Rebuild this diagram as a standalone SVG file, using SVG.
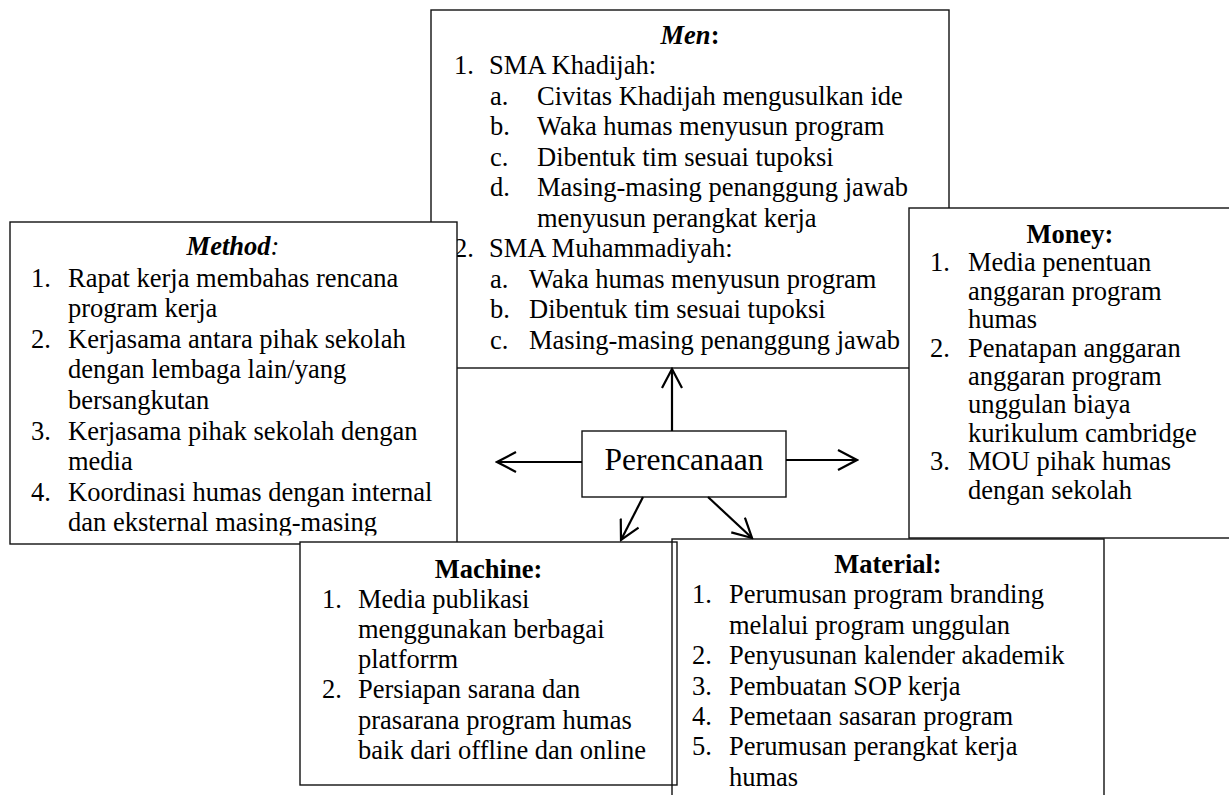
<svg xmlns="http://www.w3.org/2000/svg" width="1229" height="795" viewBox="0 0 1229 795" font-family="'Liberation Serif', 'Times New Roman', Times, serif">
<style>
.box{fill:#fff;stroke:#111;stroke-width:1.4}
.open{fill:none;stroke:#111;stroke-width:1.4}
text{font-family:"Liberation Serif","Times New Roman",Times,serif;font-size:26.5px;fill:#000}
.t{font-weight:bold;text-anchor:middle}
.c{stroke:#000;stroke-width:2.2;fill:none;marker-end:url(#ah)}
</style>
<defs>
<marker id="ah" viewBox="0 0 22 22" refX="20" refY="11" markerWidth="22" markerHeight="22" markerUnits="userSpaceOnUse" orient="auto">
<path d="M1,1 L20,11 L1,21" fill="none" stroke="#000" stroke-width="2.2"/>
</marker>
<clipPath id="mclip"><rect x="10" y="222" width="447" height="313.5"/></clipPath>
</defs>

<g id="men">
<rect class="box" x="431" y="10" width="518" height="358"/>
<text class="t" x="690" y="44"><tspan font-style="italic">Men</tspan>:</text>
<text x="454" y="74">1.</text><text x="489" y="74">SMA Khadijah:</text>
<text x="490" y="104.5">a.</text><text x="537" y="104.5">Civitas Khadijah mengusulkan ide</text>
<text x="490" y="135">b.</text><text x="537" y="135">Waka humas menyusun program</text>
<text x="490" y="165.5">c.</text><text x="537" y="165.5">Dibentuk tim sesuai tupoksi</text>
<text x="490" y="196">d.</text><text x="537" y="196">Masing-masing penanggung jawab</text>
<text x="537" y="226.5">menyusun perangkat kerja</text>
<text x="454" y="257">2.</text><text x="489" y="257">SMA Muhammadiyah:</text>
<text x="490" y="287.5">a.</text><text x="529" y="287.5">Waka humas menyusun program</text>
<text x="490" y="318">b.</text><text x="529" y="318">Dibentuk tim sesuai tupoksi</text>
<text x="490" y="348.5">c.</text><text x="529" y="348.5">Masing-masing penanggung jawab</text>
</g>

<g id="method">
<rect class="box" x="10" y="222" width="447" height="322"/>
<g clip-path="url(#mclip)">
<text class="t" x="233" y="255"><tspan font-style="italic">Method</tspan><tspan font-style="italic" font-weight="normal">:</tspan></text>
<text x="31" y="286.5">1.</text><text x="68" y="286.5">Rapat kerja membahas rencana</text>
<text x="68" y="317">program kerja</text>
<text x="31" y="347.7">2.</text><text x="68" y="347.7">Kerjasama antara pihak sekolah</text>
<text x="68" y="378.3">dengan lembaga lain/yang</text>
<text x="68" y="409">bersangkutan</text>
<text x="31" y="439.6">3.</text><text x="68" y="439.6">Kerjasama pihak sekolah dengan</text>
<text x="68" y="470.2">media</text>
<text x="31" y="500.8">4.</text><text x="68" y="500.8">Koordinasi humas dengan internal</text>
<text x="68" y="531.4">dan eksternal masing-masing</text>
</g>
</g>

<g id="money">
<rect class="box" x="909" y="208" width="340" height="330"/>
<text class="t" x="1070" y="243">Money:</text>
<text x="930" y="271.4">1.</text><text x="968" y="271.4">Media penentuan</text>
<text x="968" y="299.8">anggaran program</text>
<text x="968" y="328.2">humas</text>
<text x="930" y="356.6">2.</text><text x="968" y="356.6">Penatapan anggaran</text>
<text x="968" y="385">anggaran program</text>
<text x="968" y="413.4">unggulan biaya</text>
<text x="968" y="441.8">kurikulum cambridge</text>
<text x="930" y="470.2">3.</text><text x="968" y="470.2">MOU pihak humas</text>
<text x="968" y="498.6">dengan sekolah</text>
</g>

<g id="perencanaan">
<rect class="box" x="582" y="431" width="204" height="66"/>
<text x="684" y="470" text-anchor="middle" style="font-size:31.5px">Perencanaan</text>
</g>

<g id="machine">
<rect class="box" x="300" y="542" width="377" height="243"/>
<text class="t" x="488.5" y="578">Machine:</text>
<text x="322" y="607.5">1.</text><text x="358" y="607.5">Media publikasi</text>
<text x="358" y="637.8">menggunakan berbagai</text>
<text x="358" y="668">platforrm</text>
<text x="322" y="698.4">2.</text><text x="358" y="698.4">Persiapan sarana dan</text>
<text x="358" y="728.7">prasarana program humas</text>
<text x="358" y="759">baik dari offline dan online</text>
</g>

<g id="material">
<rect class="open" x="672" y="539" width="432" height="280"/>
<text class="t" x="888" y="573">Material:</text>
<text x="692" y="603.4">1.</text><text x="729" y="603.4">Perumusan program branding</text>
<text x="729" y="633.8">melalui program unggulan</text>
<text x="692" y="664.2">2.</text><text x="729" y="664.2">Penyusunan kalender akademik</text>
<text x="692" y="694.6">3.</text><text x="729" y="694.6">Pembuatan SOP kerja</text>
<text x="692" y="725">4.</text><text x="729" y="725">Pemetaan sasaran program</text>
<text x="692" y="755.4">5.</text><text x="729" y="755.4">Perumusan perangkat kerja</text>
<text x="729" y="785.8">humas</text>
</g>

<g id="connectors">
<line class="c" x1="672" y1="431" x2="672" y2="369"/>
<line class="c" x1="582" y1="462" x2="497" y2="462"/>
<line class="c" x1="786" y1="460" x2="857" y2="460"/>
<line class="c" x1="643" y1="497" x2="621" y2="540"/>
<line class="c" x1="708" y1="497" x2="752" y2="538"/>
</g>
</svg>
